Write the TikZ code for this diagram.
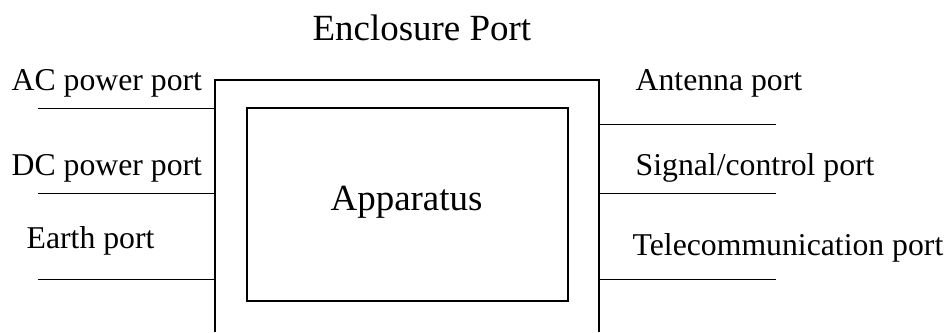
\documentclass[tikz,border=0pt]{standalone}
\usepackage{fontspec}
\setmainfont{Liberation Serif}
\begin{document}
\begin{tikzpicture}[x=0.75pt,y=-0.75pt,line width=1pt,
  lbl/.style={anchor=base west,inner sep=0pt,font=\fontsize{23.8}{28}\selectfont},
  big/.style={lbl,font=\fontsize{27.7}{32}\selectfont}]
\useasboundingbox (0,0) rectangle (949,332);
% enclosure and apparatus
\draw (215,332) coordinate (encl) -- (215,80) -- (599,80) -- (599,332) coordinate (encr);
\draw (247,108) coordinate (appa) rectangle (568,301) coordinate (appb);
\node[big] (enc) at (312,40) {Enclosure Port};
\node[big] (app) at (330,210) {Apparatus};
% left ports
\node[lbl] (ac) at (11,90) {AC power port};
\node[lbl] (dc) at (11,175) {DC power port};
\node[lbl] (earth) at (26,248) {Earth port};
\coordinate (acend) at (38,108.3);
\coordinate (dcend) at (38,193.3);
\coordinate (earthend) at (38,279.3);
\draw (acend) -- (acend -| encl) (dcend) -- (dcend -| encl)
  (earthend) -- (earthend -| encl);
% right ports
\node[lbl] (ant) at (635,90) {Antenna port};
\node[lbl] (sig) at (635,175) {Signal/control port};
\node[lbl] (tel) at (632,255) {Telecommunication port};
\coordinate (antend) at (776,124.3);
\coordinate (sigend) at (776,193.3);
\coordinate (telend) at (776,279.3);
\draw (antend) -- (antend -| encr) (sigend) -- (sigend -| encr)
  (telend) -- (telend -| encr);
\end{tikzpicture}
\end{document}
